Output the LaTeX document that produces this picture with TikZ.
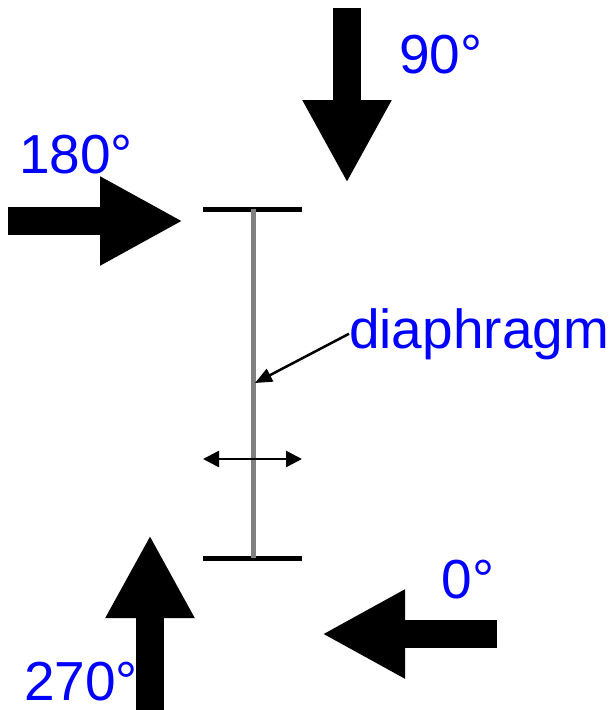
\documentclass[tikz,border=0pt]{standalone}
\usepackage{fontspec}
\setmainfont{Liberation Sans}
\usetikzlibrary{arrows.meta}

\begin{document}
\begin{tikzpicture}[
        x = 1pt, y = -1pt,
        bigarrow/.style = {line width=28pt, -{Triangle[length=83pt, width=83pt]}},
        angle/.style = {text=blue, font=\fontsize{55}{60}\selectfont, inner sep=0pt, anchor=base},
        bar/.style = {line width=5pt},
        thin/.style = {line width=2.5pt}]
        \useasboundingbox (0,0) rectangle (616,710);
        % NODES
        % beam ends
        \coordinate (TL) at (203,209);
        \coordinate (TR) at (302,209);
        \coordinate (BL) at (203,558);
        \coordinate (BR) at (302,558);
        \coordinate (TM) at (253,209);
        \coordinate (BM) at (253,558);
        % motion arrow ends
        \coordinate (ML) at (203,459);
        \coordinate (MR) at (302,459);
        % pointer target
        \coordinate (D) at (255,383);
        % big arrows
        \coordinate (A180s) at (8,221);
        \coordinate (A180e) at (183,221);
        \coordinate (A90s) at (347,8);
        \coordinate (A90e) at (347,183);
        \coordinate (A270s) at (150,710);
        \coordinate (A270e) at (150,535);
        \coordinate (A0s) at (497,634);
        \coordinate (A0e) at (322,634);
        % labels
        \node[angle] (L90) at (441,73) {90°};
        \node[angle] (L180) at (76,173) {180°};
        \node[angle] (L0) at (468,598) {0°};
        \node[angle] (L270) at (81,700) {270°};
        \node[angle, anchor=base west] (Diaph) at (349,348) {diaphragm};

        % ARROWS
        \draw[bar] (TL)--(TR);
        \draw[bar] (BL)--(BR);
        \draw[line width=5pt, gray] (TM)--(BM);
        \draw[thin, {Triangle[length=16pt, width=16pt]}-{Triangle[length=16pt, width=16pt]}] (ML)--(MR);
        \draw[thin, -{Triangle[length=17pt, width=14pt]}] (Diaph.west)--(D);
        \draw[bigarrow] (A180s)--(A180e);
        \draw[bigarrow] (A90s)--(A90e);
        \draw[bigarrow] (A270s)--(A270e);
        \draw[bigarrow] (A0s)--(A0e);
    \end{tikzpicture}
\end{document}
